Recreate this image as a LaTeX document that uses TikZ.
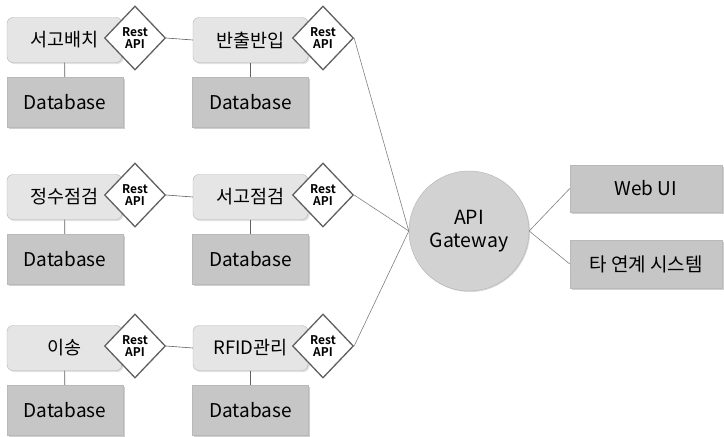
\documentclass[tikz,border=0pt]{standalone}
\usepackage{fontspec}
\setmainfont{Noto Sans CJK KR}[BoldFont={Noto Sans CJK KR Bold}]
\usetikzlibrary{shapes.geometric,shadows}

\tikzset{
    svcbox/.style={draw=gray!60, fill=gray!20, rounded corners=6pt,
        minimum width=115pt, minimum height=45pt,
        font=\fontsize{18.5}{20}\selectfont,
        drop shadow={shadow xshift=1.5pt, shadow yshift=-1.5pt, fill=gray!45}},
    dbbox/.style={draw=gray!55, fill=gray!45,
        minimum width=116pt, minimum height=50pt,
        font=\fontsize{19}{21}\selectfont,
        drop shadow={shadow xshift=1.5pt, shadow yshift=-1.5pt, fill=gray!75}},
    restapi/.style={diamond, draw=gray!75!black, line width=1.3pt, fill=white,
        minimum width=61pt, minimum height=64pt, inner sep=0pt, align=center,
        font=\fontsize{12}{11.5}\selectfont\bfseries},
    link/.style={draw=gray!75!black, line width=0.6pt}
}

\begin{document}
\begin{tikzpicture}[x=1pt, y=-1pt]

    \useasboundingbox (0,0) rectangle (724,437);

    % Service rows: left service, right service, each with its database
    \foreach \r/\y/\svca/\svcb in {1/40/서고배치/반출반입, 2/197/정수점검/서고점검, 3/348/이송/RFID관리} {
        \node[svcbox] (sa\r) at (64.5, \y) {\svca};
        \node[svcbox] (sb\r) at (250.5, \y) {\svcb};
        \node[dbbox] (dba\r) at (65, \y+62) {Database};
        \node[dbbox] (dbb\r) at (250.5, \y+62) {Database};
        \draw[link] (sa\r) -- (dba\r);
        \draw[link] (sb\r) -- (dbb\r);
        \node[restapi] (ra\r) at (135, \y-2) {Rest\\API};
        \node[restapi] (rb\r) at (323, \y-2) {Rest\\API};
        \draw[link] (ra\r.east) -- (sb\r.west);
    }

    % API gateway in the middle
    \node[circle, draw=gray!60, fill=gray!35, minimum size=120pt, align=center,
        font=\fontsize{19.5}{23}\selectfont,
        drop shadow={shadow xshift=1pt, shadow yshift=-1pt, fill=gray!60}] (gw) at (469, 231) {API\\Gateway};

    % Clients on the right
    \node[dbbox, minimum width=152pt, minimum height=47pt] (webui) at (646, 188.5) {Web UI};
    \node[dbbox, minimum width=152pt, minimum height=48pt] (other) at (646, 264) {타 연계 시스템};

    % Links to the gateway
    \foreach \r in {1,2,3} {
        \draw[link, gray] (rb\r.east) -- (gw.west);
    }
    \draw[link, gray] (gw.east) -- (webui.west);
    \draw[link, gray] (gw.east) -- (other.west);

\end{tikzpicture}
\end{document}
